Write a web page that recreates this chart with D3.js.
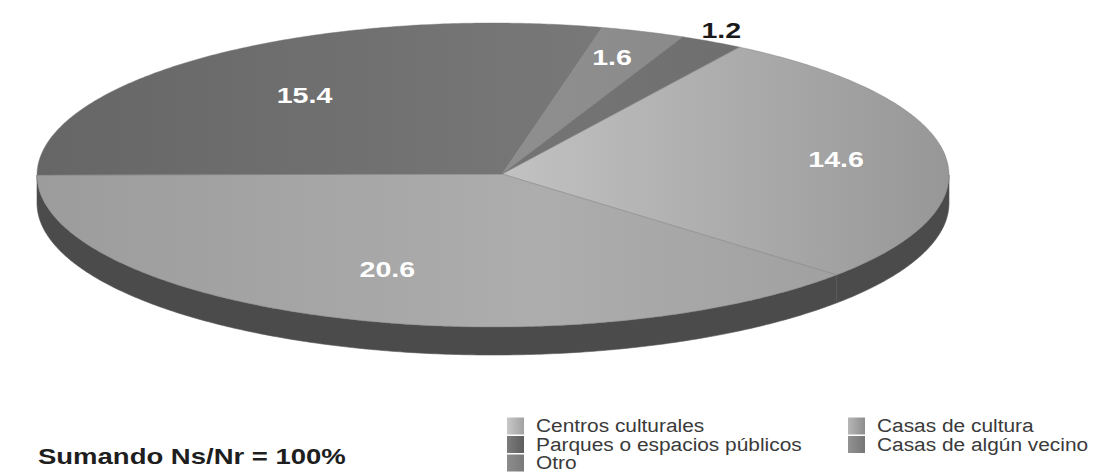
<!DOCTYPE html>
<html>
<head>
<meta charset="utf-8">
<script src="https://cdn.jsdelivr.net/npm/d3@7"></script>
<style>
  html, body { margin: 0; padding: 0; background: #fff; }
  svg { display: block; }
  text { font-family: "Liberation Sans", Arial, Helvetica, sans-serif; }
</style>
</head>
<body>
<svg id="chart" width="1100" height="474"></svg>
<script>
// ---- data ----
const categories = ["Centros culturales", "Casas de cultura", "Parques o espacios públicos", "Casas de algún vecino", "Otro"];
const values = [14.6, 20.6, 15.4, 1.6, 1.2];
const valueLabels = ["14.6", "20.6", "15.4", "1.6", "1.2"];
const note = "Sumando Ns/Nr = 100%";

// ---- style / layout ----
const W = 1100, H = 474;
const cx = 493, cy = 175, rx = 456, ry = 152, depth = 28;
const apex = [502, 174];
const topFill = [
  [["0%", "#c2c2c2"], ["100%", "#979797"]],
  [["0%", "#9c9c9c"], ["55%", "#adadad"], ["100%", "#9c9c9c"]],
  [["0%", "#666666"], ["100%", "#7a7a7a"]],
  [["0%", "#8e8e8e"], ["100%", "#8a8a8a"]],
  [["0%", "#737373"], ["100%", "#6e6e6e"]]
];
const gradX = [[500, 950], [37, 950], [37, 650], [560, 700], [600, 760]];
const swatchFill = [
  [["0%", "#c8c8c8"], ["100%", "#a2a2a2"]],
  [["0%", "#b6b6b6"], ["100%", "#8e8e8e"]],
  [["0%", "#7c7c7c"], ["100%", "#5e5e5e"]],
  [["0%", "#929292"], ["100%", "#767676"]],
  [["0%", "#8c8c8c"], ["100%", "#7a7a7a"]]
];
const labelR = [0.76, 0.66, 0.67, 0.82, 1.09];
const labelDx = [0, 0, 0, -4, -10];
const labelColor = ["#fff", "#fff", "#fff", "#fff", "#1a1a1a"];
const sideColor = "#4b4b4b";

const svg = d3.select("#chart");
const defs = svg.append("defs");

values.forEach((v, i) => {
  const g = defs.append("linearGradient").attr("id", "top" + i)
    .attr("gradientUnits", "userSpaceOnUse")
    .attr("x1", gradX[i][0]).attr("x2", gradX[i][1]).attr("y1", 0).attr("y2", 0);
  topFill[i].forEach(s => g.append("stop").attr("offset", s[0]).attr("stop-color", s[1]));
  const sg = defs.append("linearGradient").attr("id", "sw" + i)
    .attr("x1", "0%").attr("x2", "100%").attr("y1", "0%").attr("y2", "0%");
  swatchFill[i].forEach(s => sg.append("stop").attr("offset", s[0]).attr("stop-color", s[1]));
});

// start so that the third slice begins at the left (9 o'clock)
const total = d3.sum(values);
const before = values[0] + values[1];
const start = -Math.PI / 2 - before / total * 2 * Math.PI;
const pie = d3.pie().sort(null).value(d => d).startAngle(start).endAngle(start + 2 * Math.PI);
const arcs = pie(values);

const px = a => cx + rx * Math.sin(a);
const py = a => cy - ry * Math.cos(a);

function arcPoints(a0, a1, dy) {
  const n = Math.max(2, Math.ceil(Math.abs(a1 - a0) / 0.01));
  const pts = [];
  for (let k = 0; k <= n; k++) {
    const a = a0 + (a1 - a0) * k / n;
    pts.push([px(a), py(a) + dy]);
  }
  return pts;
}

// sides (front half only)
const sideG = svg.append("g");
arcs.forEach((d, i) => {
  for (let k = -2; k <= 2; k++) {
    const lo = Math.PI / 2 + k * 2 * Math.PI, hi = 3 * Math.PI / 2 + k * 2 * Math.PI;
    const a0 = Math.max(d.startAngle, lo), a1 = Math.min(d.endAngle, hi);
    if (a1 > a0) {
      const top = arcPoints(a0, a1, 0);
      const bot = arcPoints(a0, a1, depth).reverse();
      sideG.append("path")
        .attr("d", d3.line()(top.concat(bot)) + "Z")
        .attr("fill", sideColor)
        .attr("stroke", "#555").attr("stroke-width", 0.6);
    }
  }
});

// tops
const topG = svg.append("g");
arcs.forEach((d, i) => {
  const pts = [apex].concat(arcPoints(d.startAngle, d.endAngle, 0));
  topG.append("path")
    .attr("d", d3.line()(pts) + "Z")
    .attr("fill", `url(#top${i})`)
    .attr("stroke", "rgba(120,120,120,0.6)").attr("stroke-width", 0.7)
    .attr("stroke-linejoin", "round");
});

// value labels
const labG = svg.append("g");
arcs.forEach((d, i) => {
  const m = (d.startAngle + d.endAngle) / 2;
  const x = cx + rx * labelR[i] * Math.sin(m) + labelDx[i];
  const y = cy - ry * labelR[i] * Math.cos(m);
  labG.append("g").attr("transform", `translate(${x},${y}) scale(1.3,1)`)
    .append("text")
    .attr("text-anchor", "middle").attr("dy", "0.36em")
    .attr("font-size", 22).attr("font-weight", "bold")
    .attr("fill", labelColor[i])
    .text(valueLabels[i]);
});

// legend (row-wise, two columns)
const legX = [507, 848], legY0 = 426, legDy = 18.5, sw = 17;
const legG = svg.append("g");
categories.forEach((c, i) => {
  const col = i % 2, row = Math.floor(i / 2);
  const x = legX[col], y = legY0 + row * legDy;
  legG.append("rect").attr("x", x).attr("y", y - sw / 2).attr("width", sw).attr("height", sw)
    .attr("fill", `url(#sw${i})`);
  legG.append("g").attr("transform", `translate(${x + 29},${y}) scale(1.16,1)`)
    .append("text").attr("dy", "0.36em")
    .attr("font-size", 18).attr("fill", "#3a3a3a").text(c);
});

// note
svg.append("g").attr("transform", `translate(38,456) scale(1.25,1)`)
  .append("text").attr("dy", "0.36em")
  .attr("font-size", 22).attr("font-weight", "bold").attr("fill", "#1e1e1e")
  .text(note);
</script>
</body>
</html>
